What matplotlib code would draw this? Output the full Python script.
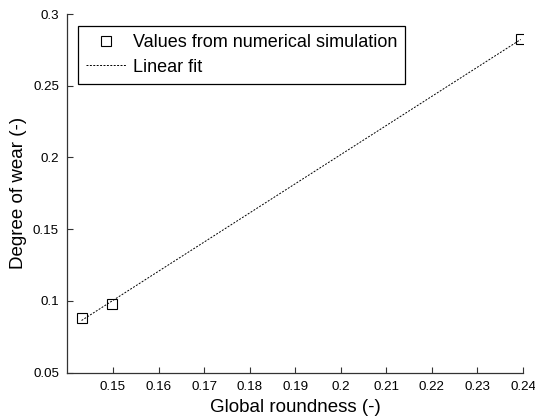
import numpy as np
import matplotlib
matplotlib.use("Agg")
import matplotlib.pyplot as plt

# values
roundness = [0.1431, 0.1498, 0.2395]
wear = [0.0883, 0.0979, 0.2824]

x_ticks = [0.15, 0.16, 0.17, 0.18, 0.19, 0.2, 0.21, 0.22, 0.23, 0.24]
x_tick_labels = ["0.15", "0.16", "0.17", "0.18", "0.19", "0.2", "0.21", "0.22", "0.23", "0.24"]
y_ticks = [0.05, 0.1, 0.15, 0.2, 0.25, 0.3]
y_tick_labels = ["0.05", "0.1", "0.15", "0.2", "0.25", "0.3"]

plt.rcParams['font.family'] = ['Liberation Sans', 'DejaVu Sans']

fig = plt.figure(figsize=(5.35, 4.18), dpi=100)
ax = fig.add_axes([0.126, 0.1084, 0.8516, 0.8581])

# linear fit through the simulation values
coef = np.polyfit(roundness, wear, 1)
fit_x = np.array([min(roundness), max(roundness)])
fit_y = np.polyval(coef, fit_x)

ax.plot(roundness, wear, linestyle='none', marker='s', markersize=6.5,
        markerfacecolor='none', markeredgecolor='black', markeredgewidth=0.8,
        label='Values from numerical simulation')
ax.plot(fit_x, fit_y, linestyle=(0, (2, 1.5)), color='black', linewidth=0.7,
        label='Linear fit')

ax.set_xlim(0.14, 0.24)
ax.set_ylim(0.05, 0.3)
ax.set_xticks(x_ticks)
ax.set_xticklabels(x_tick_labels)
ax.set_yticks(y_ticks)
ax.set_yticklabels(y_tick_labels)

ax.spines['top'].set_visible(False)
ax.spines['right'].set_visible(False)
for s in ['left', 'bottom']:
    ax.spines[s].set_color('#333333')
    ax.spines[s].set_linewidth(0.9)
ax.tick_params(direction='in', length=4, width=0.8, color='#333333',
               labelsize=9.6, pad=6)

ax.set_xlabel('Global roundness (-)', fontsize=13.5, labelpad=4)
ax.set_ylabel('Degree of wear (-)', fontsize=13.5, labelpad=4)

leg = ax.legend(loc='upper left', bbox_to_anchor=(0.024, 0.967), borderaxespad=0,
                fontsize=13, frameon=True, fancybox=False, edgecolor='black',
                framealpha=1, handlelength=2.2, handletextpad=0.35,
                labelspacing=0.42, borderpad=0.45)
leg.get_frame().set_linewidth(0.9)

fig.savefig('out.png', dpi=100)
